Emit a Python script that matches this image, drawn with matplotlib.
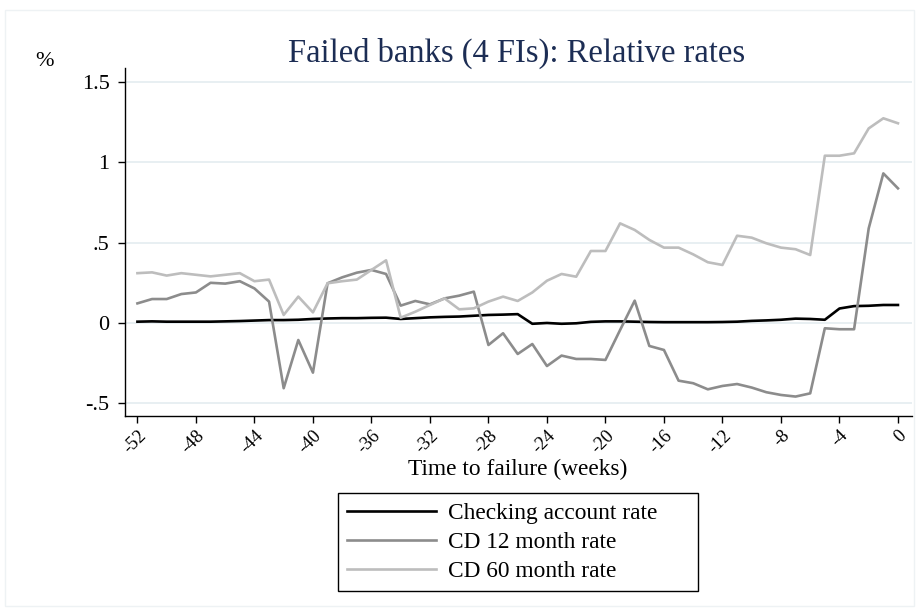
import matplotlib
matplotlib.use("Agg")
import matplotlib.pyplot as plt
from matplotlib.patches import Rectangle

weeks = list(range(-52, 1))

checking = [0.008, 0.010, 0.008, 0.008, 0.008, 0.008, 0.010, 0.012, 0.015, 0.018,
            0.018, 0.020, 0.025, 0.028, 0.030, 0.030, 0.032, 0.033, 0.025, 0.030,
            0.035, 0.038, 0.040, 0.045, 0.050, 0.052, 0.055, -0.005, 0.000, -0.005,
            -0.002, 0.007, 0.010, 0.010, 0.008, 0.006, 0.005, 0.005, 0.005, 0.005,
            0.006, 0.008, 0.013, 0.016, 0.020, 0.027, 0.025, 0.020, 0.090, 0.105,
            0.107, 0.112, 0.112]

cd12 = [0.122, 0.149, 0.149, 0.180, 0.190, 0.250, 0.245, 0.260, 0.215, 0.133,
        -0.406, -0.106, -0.309, 0.247, 0.284, 0.313, 0.330, 0.305, 0.108, 0.137,
        0.116, 0.153, 0.170, 0.195, -0.137, -0.064, -0.193, -0.131, -0.268, -0.203,
        -0.224, -0.224, -0.230, -0.044, 0.139, -0.143, -0.168, -0.359, -0.375, -0.413,
        -0.392, -0.380, -0.402, -0.431, -0.448, -0.458, -0.438, -0.033, -0.039, -0.039,
        0.589, 0.931, 0.838]

cd60 = [0.310, 0.315, 0.295, 0.310, 0.300, 0.290, 0.300, 0.310, 0.260, 0.270,
        0.050, 0.164, 0.066, 0.247, 0.260, 0.270, 0.330, 0.390, 0.033, 0.070,
        0.112, 0.153, 0.085, 0.091, 0.133, 0.164, 0.137, 0.190, 0.263, 0.305,
        0.288, 0.448, 0.448, 0.620, 0.579, 0.517, 0.469, 0.469, 0.427, 0.378,
        0.361, 0.543, 0.531, 0.496, 0.469, 0.459, 0.423, 1.041, 1.041, 1.056,
        1.211, 1.274, 1.243]

series_labels = ["Checking account rate", "CD 12 month rate", "CD 60 month rate"]
series_colors = ["#000000", "#8c8c8c", "#bdbdbd"]

xticks = list(range(-52, 1, 4))
yticks = [-0.5, 0, 0.5, 1, 1.5]
yticklabels = ["-.5", "0", ".5", "1", "1.5"]

title = "Failed banks (4 FIs): Relative rates"
xlabel = "Time to failure (weeks)"
ylabel = "%"

plt.rcParams['font.family'] = ['Liberation Serif', 'DejaVu Serif']
FS = 16.8

W, H = 919, 612
fig = plt.figure(figsize=(W / 100, H / 100), dpi=100)
fig.patch.set_facecolor("white")

# outer graph-region border
fig.add_artist(Rectangle((5 / W, 1 - 606 / H), 909 / W, 596 / H,
                         transform=fig.transFigure, fill=False,
                         edgecolor="#eef2f4", linewidth=1.0))

L, R, T, B = 125, 912, 68, 416
ax = fig.add_axes([L / W, 1 - B / H, (R - L) / W, (B - T) / H])

lines = []
for vals, lab, col in zip([checking, cd12, cd60], series_labels, series_colors):
    ln, = ax.plot(weeks, vals, color=col, linewidth=1.9, label=lab)
    lines.append(ln)

ax.set_xlim(-52.85, 0.96)
ax.set_ylim(-0.579, 1.587)

ax.set_yticks(yticks)
ax.set_yticklabels(yticklabels, fontsize=16)
ax.set_xticks(xticks)
ax.set_xticklabels([str(t) for t in xticks], fontsize=13.5, rotation=45,
                   ha="right", va="top", rotation_mode="anchor")

ax.tick_params(axis="both", direction="out", length=5, width=1, color="black")
ax.tick_params(axis="x", pad=3)
ax.tick_params(axis="y", pad=6)

ax.grid(axis="y", color="#e6eef1", linewidth=1.3)
ax.set_axisbelow(True)
for s in ["top", "right"]:
    ax.spines[s].set_visible(False)
for s in ["left", "bottom"]:
    ax.spines[s].set_color("black")
    ax.spines[s].set_linewidth(1.0)

fig.text(518 / W, 1 - 469 / H, xlabel, fontsize=FS, ha="center", va="center")
fig.text(517 / W, 1 - 53 / H, title, fontsize=23.5, color="#1c2d54",
         ha="center", va="center")
fig.text(44 / W, 1 - 62 / H, ylabel, fontsize=16, ha="center", va="center")

# legend frame
fig.add_artist(Rectangle((338 / W, 1 - 591 / H), 360 / W, 98 / H,
                         transform=fig.transFigure, fill=False,
                         edgecolor="black", linewidth=1.0))
leg = fig.legend(handles=lines, loc="upper left",
                 bbox_to_anchor=(347 / W, 1 - 503 / H),
                 fontsize=FS, frameon=False, handlelength=3.8,
                 handletextpad=0.55, labelspacing=0.33, borderpad=0,
                 borderaxespad=0)

fig.savefig("out.png", dpi=100)
